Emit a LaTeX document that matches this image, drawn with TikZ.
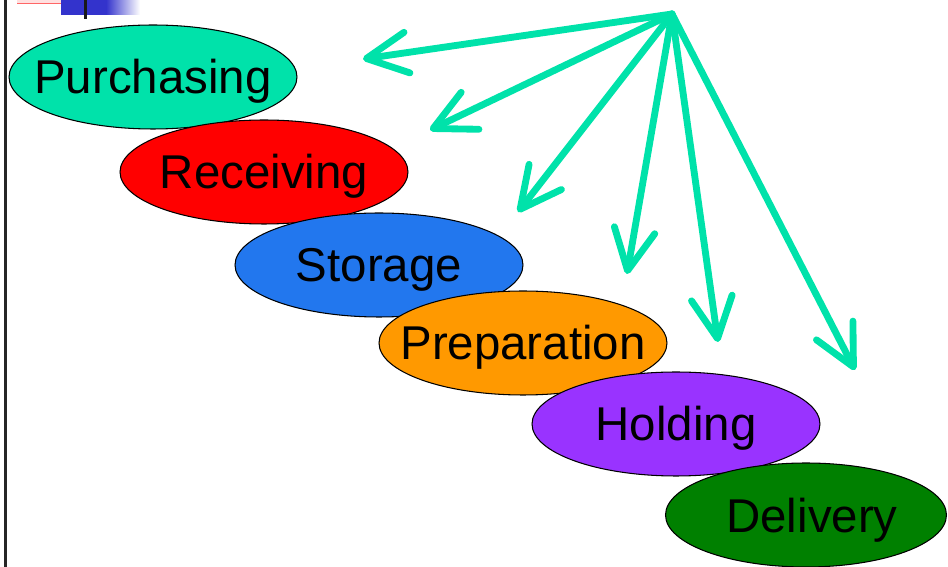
\documentclass[tikz,border=0pt]{standalone}
\usepackage{fontspec}
\setmainfont{Liberation Sans}
\usepackage{tikz}
\usetikzlibrary{positioning, calc, shapes.geometric, arrows.meta}
\definecolor{turq}{RGB}{0, 226, 170}
\definecolor{redstage}{RGB}{255, 0, 0}
\definecolor{bluestage}{RGB}{34, 119, 238}
\definecolor{orangestage}{RGB}{255, 153, 0}
\definecolor{purplestage}{RGB}{153, 51, 255}
\definecolor{greenstage}{RGB}{0, 128, 0}
\definecolor{slideblue}{RGB}{51, 51, 204}

\begin{document}
\begin{tikzpicture}[
      x=0.02cm, y=-0.02cm,
      stage/.style={ellipse, draw=black, line width=0.6pt, minimum width=5.76cm, minimum height=2.08cm, inner sep=0pt},
      stagetext/.style={font=\fontsize{27}{30}\selectfont, text=black, inner sep=0pt, yshift=-0.09cm},
      pointer/.style={draw=turq, line width=3.9pt, line cap=round, -{Straight Barb[length=0.82cm, width=0.82cm, round]}}
    ]
      \useasboundingbox (0,0) rectangle (948,567);

      % slide corner marks and left rule
      \fill[red!12] (17,0) rectangle (77,3);
      \draw[red!60, line width=0.4pt] (17,3) -- (77,3);
      \fill[slideblue] (61,0) rectangle (106,15);
      \shade[left color=slideblue, right color=white] (106,0) rectangle (140,15);
      \fill[black!90] (84,0) rectangle (87,19);
      \draw[black!85, line width=1.4pt] (5.5,0) -- (5.5,567);

      % the stages, each one over the last
      \node[stage, fill=turq] (purch) at (153,77) {};
      \node[stagetext] at (purch) {Purchasing};
      \node[stage, fill=redstage] (recv) at (264,172) {};
      \node[stagetext] at (recv) {Receiving};
      \node[stage, fill=bluestage] (store) at (379,265) {};
      \node[stagetext] at (store) {Storage};
      \node[stage, fill=orangestage] (prep) at (523,343) {};
      \node[stagetext] at (prep) {Preparation};
      \node[stage, fill=purplestage] (hold) at (676,424) {};
      \node[stagetext] at (hold) {Holding};
      \node[stage, fill=greenstage, minimum width=5.62cm] (deliv) at (806,515) {};
      \node[stagetext] at ($(deliv)+(6,1)$) {Delivery};

      % arrows fanning out from one point
      \coordinate (hub) at (672,14);
      \foreach \tx/\ty [count=\i] in {363/59, 430/130, 518/212, 627/274, 718/342, 855/370} {
        \coordinate (tip\i) at (\tx,\ty);
        \draw[pointer] (hub) -- (tip\i);
      }
    \end{tikzpicture}
\end{document}
